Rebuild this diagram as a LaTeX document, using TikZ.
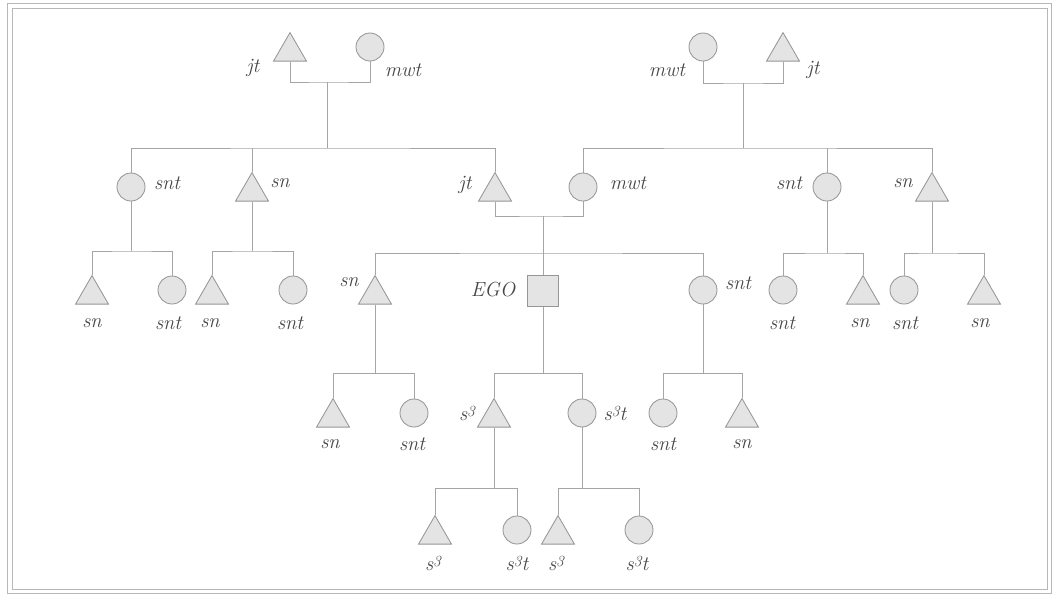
\documentclass[tikz,border=0pt]{standalone}
\usetikzlibrary{shapes.geometric}

\definecolor{linegray}{RGB}{165,165,165}
\definecolor{shapefill}{RGB}{228,228,228}
\definecolor{shapeline}{RGB}{150,150,150}
\definecolor{textgray}{RGB}{70,70,70}

\newcommand{\sThree}{s\raisebox{0.45ex}{\fontsize{11}{12}\selectfont 3}}

\begin{document}
\begin{tikzpicture}[
  x=0.025cm,y=-0.025cm,
  line/.style={draw=linegray,line width=0.6pt},
  frame/.style={draw=linegray!80,line width=0.7pt},
  circ/.style={circle,draw=shapeline,fill=shapefill,line width=0.6pt,minimum size=0.7cm,inner sep=0pt},
  tri/.style={regular polygon,regular polygon sides=3,draw=shapeline,fill=shapefill,line width=0.6pt,
    minimum size=0.95cm,inner sep=0pt,anchor=south,yshift=-0.3625cm},
  sq/.style={rectangle,draw=shapeline,fill=shapefill,line width=0.6pt,minimum size=0.775cm,inner sep=0pt},
  lab/.style={font=\fontsize{14.5}{17}\selectfont\itshape,text=textgray,inner sep=0pt}
]
\useasboundingbox (0,0) rectangle (1053,595);

% ---------------- frame ----------------
\draw[frame] (7,3) rectangle (1051,593);
\draw[frame] (12,8) rectangle (1047,589);

% ---------------- rows (centre heights in px) ----------------
\def\rOne{47}
\def\rTwo{187}
\def\rThree{290}
\def\rFour{413}
\def\rFive{530}

% ---------------- generation 1: grandparents ----------------
\node[tri]  (jtA)  at (290,\rOne) {};
\node[circ] (mwtA) at (370,\rOne) {};
\node[circ] (mwtB) at (703,\rOne) {};
\node[tri]  (jtB)  at (783,\rOne) {};

\node[lab] (l-jtA)  at (253,68) {jt};
\node[lab] (l-mwtA) at (403,70) {mwt};
\node[lab] (l-mwtB) at (667,70) {mwt};
\node[lab] (l-jtB)  at (813,70) {jt};

% ---------------- generation 2: parents, uncles, aunts ----------------
\node[circ] (sntA) at (131,\rTwo) {};
\node[tri]  (snA)  at (252,\rTwo) {};
\node[tri]  (jtF)  at (495,\rTwo) {};
\node[circ] (mwtM) at (583,\rTwo) {};
\node[circ] (sntB) at (827,\rTwo) {};
\node[tri]  (snB)  at (932,\rTwo) {};

\node[lab] (l-sntA) at (167,183) {snt};
\node[lab] (l-snA)  at (280,183) {sn};
\node[lab] (l-jtF)  at (465,185) {jt};
\node[lab] (l-mwtM) at (628,183) {mwt};
\node[lab] (l-sntB) at (789,183) {snt};
\node[lab] (l-snB)  at (903,183) {sn};

% ---------------- generation 3: ego and cousins ----------------
\node[tri]  (snC)  at (92,\rThree) {};
\node[circ] (sntC) at (172,\rThree) {};
\node[tri]  (snD)  at (212,\rThree) {};
\node[circ] (sntD) at (293,\rThree) {};
\node[tri]  (snE)  at (375,\rThree) {};
\node[sq]   (ego)  at (543,291) {};
\node[circ] (sntE) at (703,\rThree) {};
\node[circ] (sntF) at (783,\rThree) {};
\node[tri]  (snF)  at (863,\rThree) {};
\node[circ] (sntG) at (904,\rThree) {};
\node[tri]  (snG)  at (984,\rThree) {};

\node[lab] (l-snC)  at (92,323)  {sn};
\node[lab] (l-sntC) at (168,323) {snt};
\node[lab] (l-snD)  at (210,323) {sn};
\node[lab] (l-sntD) at (290,323) {snt};
\node[lab] (l-snE)  at (349,282) {sn};
\node[lab] (l-ego)  at (493,290) {EGO};
\node[lab] (l-sntE) at (738,283) {snt};
\node[lab] (l-sntF) at (782,323) {snt};
\node[lab] (l-snF)  at (860,323) {sn};
\node[lab] (l-sntG) at (905,323) {snt};
\node[lab] (l-snG)  at (980,323) {sn};

% ---------------- generation 4 ----------------
\node[tri]  (snH)  at (333,\rFour) {};
\node[circ] (sntH) at (414,\rFour) {};
\node[tri]  (sB)   at (494,\rFour) {};
\node[circ] (stB)  at (582,\rFour) {};
\node[circ] (sntI) at (663,\rFour) {};
\node[tri]  (snI)  at (742,\rFour) {};

\node[lab] (l-snH)  at (330,444) {sn};
\node[lab] (l-sntH) at (412,444) {snt};
\node[lab] (l-sB)   at (467,413) {\sThree};
\node[lab] (l-stB)  at (615,413) {\sThree t};
\node[lab] (l-sntI) at (663,444) {snt};
\node[lab] (l-snI)  at (742,444) {sn};

% ---------------- generation 5 ----------------
\node[tri]  (sJ)  at (435,\rFive) {};
\node[circ] (stJ) at (517,\rFive) {};
\node[tri]  (sK)  at (558,\rFive) {};
\node[circ] (stK) at (639,\rFive) {};

\node[lab] (l-sJ)  at (433,563) {\sThree};
\node[lab] (l-stJ) at (517,563) {\sThree t};
\node[lab] (l-sK)  at (556,563) {\sThree};
\node[lab] (l-stK) at (637,563) {\sThree t};

% ---------------- marriage and sibling bars ----------------
\coordinate (mA) at (327,82);
\coordinate (bA) at (327,148);
\coordinate (mB) at (743,83);
\coordinate (bB) at (743,148);
\coordinate (mF) at (543,216);
\coordinate (bF) at (543,253);
\coordinate (bC) at (131,251);
\coordinate (bD) at (252,251);
\coordinate (bG) at (827,253);
\coordinate (bH) at (932,253);
\coordinate (bE) at (375,373);
\coordinate (bEgo) at (543,373);
\coordinate (bI) at (703,373);
\coordinate (bJ) at (494,488);
\coordinate (bK) at (582,488);

% grandparents
\draw[line] (jtA.south) |- (mA) -| (mwtA.south);
\draw[line] (mA) -- (bA);
\draw[line] (sntA.north) |- (bA) -| (jtF.north);
\draw[line] (snA.north) -- (snA.north |- bA);

\draw[line] (mwtB.south) |- (mB) -| (jtB.south);
\draw[line] (mB) -- (bB);
\draw[line] (mwtM.north) |- (bB) -| (snB.north);
\draw[line] (sntB.north) -- (sntB.north |- bB);

% parents of ego
\draw[line] (jtF.south) |- (mF) -| (mwtM.south);
\draw[line] (mF) -- (ego.north);
\draw[line] (snE.north) |- (bF) -| (sntE.north);

% cousins
\draw[line] (sntA.south) -- (bC);
\draw[line] (snC.north) |- (bC) -| (sntC.north);
\draw[line] (snA.south) -- (bD);
\draw[line] (snD.north) |- (bD) -| (sntD.north);
\draw[line] (sntB.south) -- (bG);
\draw[line] (sntF.north) |- (bG) -| (snF.north);
\draw[line] (snB.south) -- (bH);
\draw[line] (sntG.north) |- (bH) -| (snG.north);

% children of ego's generation
\draw[line] (snE.south) -- (bE);
\draw[line] (snH.north) |- (bE) -| (sntH.north);
\draw[line] (ego.south) -- (bEgo);
\draw[line] (sB.north) |- (bEgo) -| (stB.north);
\draw[line] (sntE.south) -- (bI);
\draw[line] (sntI.north) |- (bI) -| (snI.north);

% grandchildren
\draw[line] (sB.south) -- (bJ);
\draw[line] (sJ.north) |- (bJ) -| (stJ.north);
\draw[line] (stB.south) -- (bK);
\draw[line] (sK.north) |- (bK) -| (stK.north);

\end{tikzpicture}
\end{document}
